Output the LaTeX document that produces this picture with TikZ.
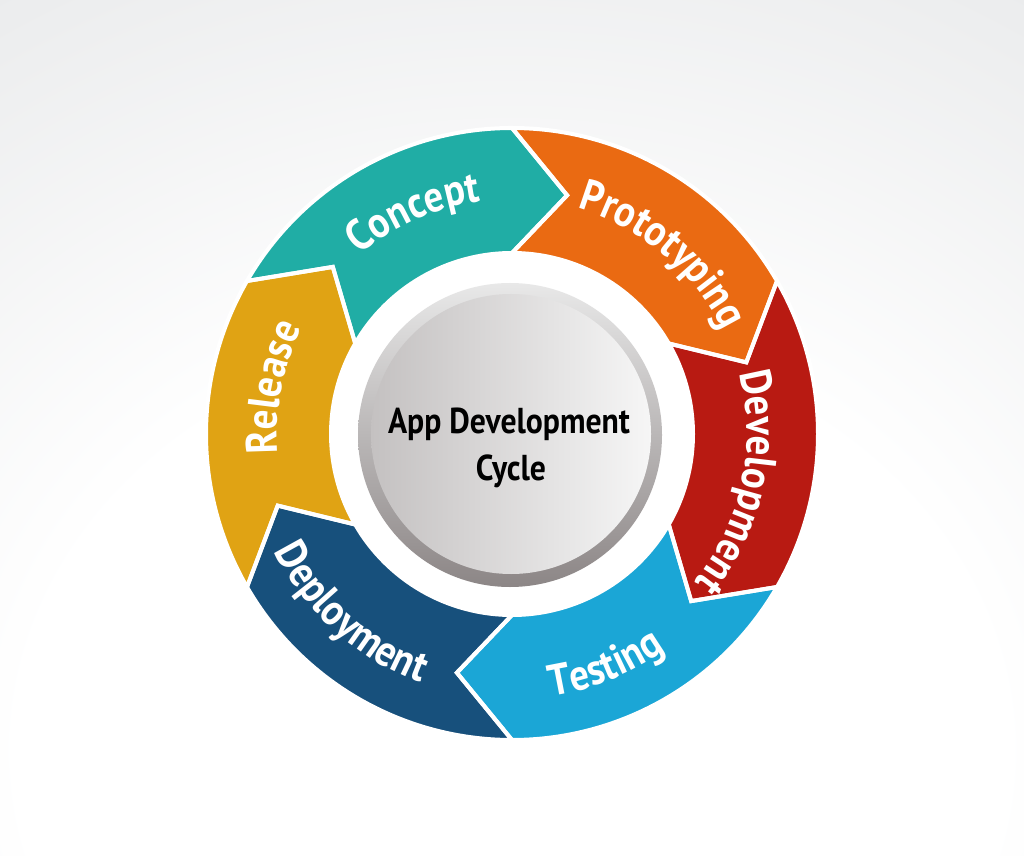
\documentclass[tikz,border=0pt]{standalone}
\usepackage{fontspec}
\newfontfamily\labfont{PT Sans}[FakeStretch=0.88]
\usetikzlibrary{decorations.text}
\definecolor{cTeal}{RGB}{32,173,165}
\definecolor{cOrange}{RGB}{234,106,18}
\definecolor{cRed}{RGB}{184,26,18}
\definecolor{cLBlue}{RGB}{27,166,214}
\definecolor{cDBlue}{RGB}{23,80,124}
\definecolor{cGold}{RGB}{224,163,20}
\definecolor{bgg}{RGB}{210,212,214}
\definecolor{bgl}{RGB}{236,237,238}
\definecolor{rimT}{RGB}{232,232,232}
\definecolor{rimB}{RGB}{140,134,134}
\definecolor{faceL}{RGB}{196,193,193}
\definecolor{faceR}{RGB}{246,246,246}
\pgfdeclareradialshading{bgshade}{\pgfpoint{0bp}{-25bp}}{color(0bp)=(white); color(24bp)=(white); color(45bp)=(bgl); color(80bp)=(bgg); color(100bp)=(bgg)}
\begin{document}
\begin{tikzpicture}[x=1pt,y=1pt,
  segfill/.style={fill=#1},
  segline/.style={draw=white, line width=4pt, line join=miter},
  lab/.style={decorate, decoration={text along path, text align=center, text color=white,
      text={|\labfont\bfseries\fontsize{44}{44}\selectfont|#1}}},
  title/.style={font=\labfont\bfseries\fontsize{36}{36}\selectfont, text=black, inner sep=0pt, anchor=base}]
\useasboundingbox (0,0) rectangle (1024,855);
\shade[shading=bgshade] (0,0) rectangle (1024,855);
\begin{scope}[shift={(512,421)}]
  \fill[white] (0,0) circle[radius=186pt];
  \def\R{306pt}\def\r{181pt}\def\Rm{245pt}
  \foreach \a/\c in {150/cTeal, 90/cOrange, 30/cRed, -30/cLBlue, -90/cDBlue, -150/cGold} {
    \pgfmathsetmacro\b{\a-60}
    \pgfmathsetmacro\bt{\a-73}
    \pgfmathsetmacro\at{\a-13}
    \fill[segfill=\c] (\a:\R) arc[start angle=\a, end angle=\b, radius=\R] -- (\bt:\Rm) -- (\b:\r)
      arc[start angle=\b, end angle=\a, radius=\r] -- (\at:\Rm) -- cycle;
  }
  \foreach \a in {150, 90, 30, -30, -90, -150} {
    \pgfmathsetmacro\b{\a-60}
    \pgfmathsetmacro\bt{\a-73}
    \pgfmathsetmacro\at{\a-13}
    \draw[segline] (\a:\R) arc[start angle=\a, end angle=\b, radius=\R] -- (\bt:\Rm) -- (\b:\r)
      arc[start angle=\b, end angle=\a, radius=\r] -- (\at:\Rm) -- cycle;
  }
  % central disc
  \shade[top color=rimT, bottom color=rimB] (-2,-1) circle[radius=152pt];
  \shade[left color=faceL, right color=faceR] (-1,0) circle[radius=140pt];
  \node[title] (t1) at (-3,1) {App Development};
  \node[title] (t2) at (-1,-46) {Cycle};
  % labels
  \path[lab=Concept] (159:235pt) arc[start angle=159, end angle=69, radius=235pt];
  \path[lab=Prototyping] (95:235pt) arc[start angle=95, end angle=5, radius=235pt];
  \path[lab=Development] (33:235pt) arc[start angle=33, end angle=-57, radius=235pt];
  \path[lab=Release] (214:235pt) arc[start angle=214, end angle=124, radius=235pt];
  \path[lab=Testing] (-113:265pt) arc[start angle=-113, end angle=-23, radius=265pt];
  \path[lab=Deployment] (-177:265pt) arc[start angle=-177, end angle=-87, radius=265pt];
\end{scope}
\end{tikzpicture}
\end{document}
